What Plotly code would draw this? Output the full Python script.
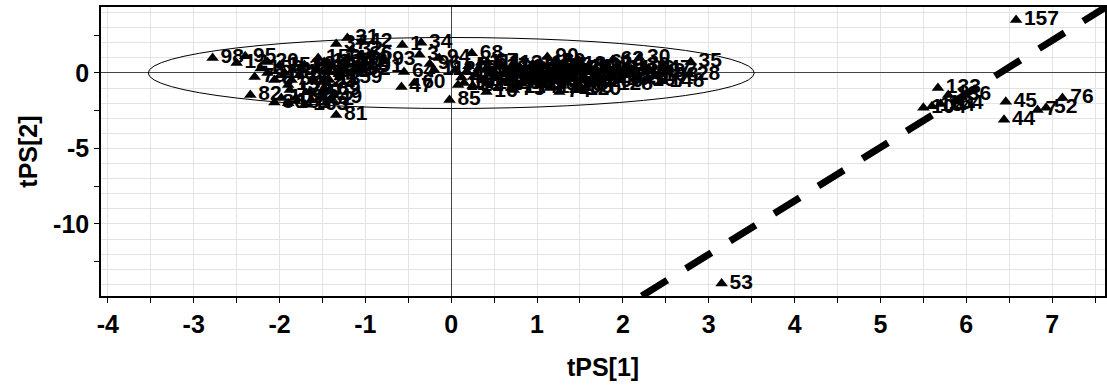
import plotly.graph_objects as go

# ---- data (sample id, tPS[1], tPS[2]) ----
sample_ids = [
    157, 53, 45, 44, 76, 7, 52, 133, 136, 104, 154, 164,
    98, 95, 12, 20, 78, 82, 86, 116, 8, 149, 59, 19, 129, 142, 109, 40, 88, 139,
    162, 118, 145, 22, 63, 83, 37, 31, 42, 66, 32, 102, 21, 92, 91, 93, 1, 34, 3,
    64, 47, 60, 81, 85, 13, 69, 49,
    94, 68, 67, 90, 80, 61, 62, 30, 35, 28, 97, 89, 26, 23, 55, 16, 75, 74, 10,
    2, 4, 5, 6, 9, 11, 14, 15, 17, 18, 24, 25, 29, 33, 36, 38, 39, 41, 43, 46,
    48, 50, 51, 54, 56, 57, 58, 65, 70, 72, 73, 77, 79, 84, 87, 99, 100, 101,
    103, 105, 106, 107, 108, 110, 111, 113, 114, 115, 117, 119, 120, 121, 122,
    123, 124, 125, 126, 127, 128, 130, 131, 132, 134, 135, 137, 138, 140, 141,
    143, 144, 146, 147, 148,
    150, 151, 152, 153, 155, 156, 158, 159, 160, 161, 163, 96, 112,
]
tps1 = [
    6.58, 3.15, 6.46, 6.44, 7.12, 6.83, 6.93, 5.67, 5.79, 5.50, 5.60, 5.70,
    -2.78, -2.40, -2.50, -2.14, -2.29, -2.34, -2.06, -2.14, -2.06, -1.94, -1.86, -1.77, -1.88, -1.81, -1.98, -1.65, -1.56, -1.71,
    -1.63, -1.48, -1.42, -1.48, -1.33, -1.24, -1.34, -1.21, -1.05, -1.05, -1.16, -1.24, -1.13, -1.07, -0.93, -0.78, -0.57, -0.35, -0.37,
    -0.55, -0.58, -0.43, -1.34, -0.02, -1.42, -1.42, -1.40,
    -0.14, 0.24, 0.42, 1.12, 1.20, 1.76, 1.88, 2.19, 2.79, 2.77, 2.50, 2.30, 2.16, 1.85, 1.52, 0.41, 0.73, 1.26, 0.15,
    0.05, 0.12, 0.20, 0.28, 0.32, 0.38, 0.45, 0.50, 0.55, 0.60, 0.62, 0.68, 0.72, 0.78, 0.82, 0.86, 0.90, 0.94, 0.98, 1.02,
    1.06, 1.10, 1.14, 1.18, 1.22, 1.26, 1.30, 1.34, 1.38, 1.42, 1.46, 1.50, 1.58, 1.62, 1.66, 1.70, 1.74, 1.80,
    1.95, 2.02, 2.10, 2.25, 2.38, 0.08, 0.35, 0.58, 0.75, 0.95, 1.15, 1.32, 1.48, 0.25, 0.42,
    0.65, 0.88, 1.08, 1.28, 1.60, 1.85, 2.05, 0.18, 0.52, 0.85, 1.20, 1.52, 1.90, 0.40, 0.70,
    1.00, 1.36, 1.68, 2.30, 2.45,
    -2.22, -2.00, -1.90, -1.75, -1.60, -1.55, -1.40, -1.30, -1.20, -1.90, -1.70, -0.25, -0.20,
]
tps2 = [
    3.51, -13.95, -1.90, -3.10, -1.66, -2.45, -2.30, -1.00, -1.45, -2.30, -2.20, -2.05,
    1.00, 1.10, 0.66, 0.73, -0.26, -1.46, -1.95, 0.00, -0.46, 0.00, -0.46, -0.13, -1.13, -1.66, -1.66, -1.26, 0.20, 0.53,
    -1.79, 0.73, 0.07, -0.60, 0.07, 0.20, 1.92, 2.32, 2.05, 1.20, 1.52, 0.73, 0.53, 0.20, 0.40, 0.86, 1.85, 2.00, 1.20,
    0.07, -0.93, -0.66, -2.78, -1.79, -0.46, -1.13, -1.66,
    1.00, 1.30, 0.73, 1.06, 0.73, 0.66, 0.86, 1.00, 0.73, -0.10, 0.07, 0.10, -0.33, -0.30, -1.00, -1.26, -1.13, -1.26, -0.66,
    0.20, -0.30, 0.45, -0.10, 0.30, -0.50, 0.10, -0.25, 0.40, -0.60, 0.05, -0.35, 0.25, -0.10, -0.70, 0.35, -0.30, 0.10, -0.50, 0.30,
    -0.15, -0.80, 0.15, -0.40, 0.40, -0.05, -0.60, 0.20, -0.30, 0.05, -0.75, 0.30, -0.50, 0.10, -0.35, -0.10, -0.60, 0.20,
    -0.45, -0.15, 0.25, -0.50, -0.20, -0.80, 0.70, 0.60, -0.95, 0.60, -1.00, 0.55, -1.10, -0.85, -0.70,
    -0.45, -0.20, 0.45, -0.85, 0.50, -0.75, 0.45, 0.10, -0.05, 0.15, -0.20, -0.35, 0.05, 0.25, -0.25,
    -0.65, 0.35, 0.30, 0.30, -0.55,
    0.30, 0.50, -0.80, 0.35, -0.50, 1.00, 0.45, -0.30, 0.95, -2.00, -2.10, 0.60, 0.20,
]

# Hotelling T2 ellipse semi-axes and the dashed reference line
ELLIPSE_A = 3.53
ELLIPSE_B = 2.35
line_x = [2.22, 7.70]
line_y = [-14.77, 4.63]

X_RANGE = [-4.08, 7.616]
Y_RANGE = [-14.77, 4.37]
x_tickvals = [-4, -3, -2, -1, 0, 1, 2, 3, 4, 5, 6, 7]
x_ticktext = ["-4", "-3", "-2", "-1", "0", "1", "2", "3", "4", "5", "6", "7"]
y_tickvals = [-12.5, -10, -7.5, -5, -2.5, 0, 2.5]
y_ticktext = ["", "-10", "", "-5", "", "0", ""]

FONT = "Liberation Sans, Arial, sans-serif"

fig = go.Figure()

fig.add_shape(type="circle", xref="x", yref="y",
              x0=-ELLIPSE_A, x1=ELLIPSE_A, y0=-ELLIPSE_B, y1=ELLIPSE_B,
              line=dict(color="black", width=1), layer="above")

fig.add_trace(go.Scatter(
    x=tps1, y=tps2, mode="markers+text",
    text=[f"<b>{s}</b>" for s in sample_ids],
    textposition="middle right",
    textfont=dict(family=FONT, size=21, color="black"),
    marker=dict(symbol="triangle-up", size=11, color="black"),
    cliponaxis=False, hoverinfo="skip", showlegend=False,
))

fig.add_trace(go.Scatter(
    x=line_x, y=line_y, mode="lines",
    line=dict(color="black", width=7, dash="30px,22px"),
    hoverinfo="skip", showlegend=False,
))

fig.update_layout(
    width=1107, height=390,
    margin=dict(l=101, r=0, t=7, b=94),
    plot_bgcolor="white", paper_bgcolor="white",
    font=dict(family=FONT, color="black"),
    xaxis=dict(
        range=X_RANGE, tickvals=x_tickvals, ticktext=x_ticktext,
        ticks="outside", ticklen=5, tickwidth=1, tickcolor="black",
        tickfont=dict(family=FONT, size=25, weight="bold", color="black"),
        showgrid=True, gridcolor="#e3e3e3", gridwidth=1,
        minor=dict(dtick=0.5, ticks="outside", ticklen=5, tickcolor="black",
                   showgrid=True, gridcolor="#e3e3e3"),
        zeroline=True, zerolinecolor="#444444", zerolinewidth=1,
        showline=True, linecolor="black", linewidth=1.5, mirror=True,
        title=dict(text="<b>tPS[1]</b>", font=dict(family=FONT, size=25, color="black"), standoff=22),
    ),
    yaxis=dict(
        range=Y_RANGE, tickvals=y_tickvals, ticktext=y_ticktext,
        ticks="outside", ticklen=5, tickwidth=1, tickcolor="black",
        tickfont=dict(family=FONT, size=25, weight="bold", color="black"),
        showgrid=False,
        minor=dict(dtick=1, ticks="", showgrid=True, gridcolor="#e3e3e3"),
        zeroline=True, zerolinecolor="#444444", zerolinewidth=1,
        showline=True, linecolor="black", linewidth=1.5, mirror=True,
        title=dict(text="<b>tPS[2]</b>", font=dict(family=FONT, size=25, color="black"), standoff=8),
    ),
)

fig.write_html("out.html")
